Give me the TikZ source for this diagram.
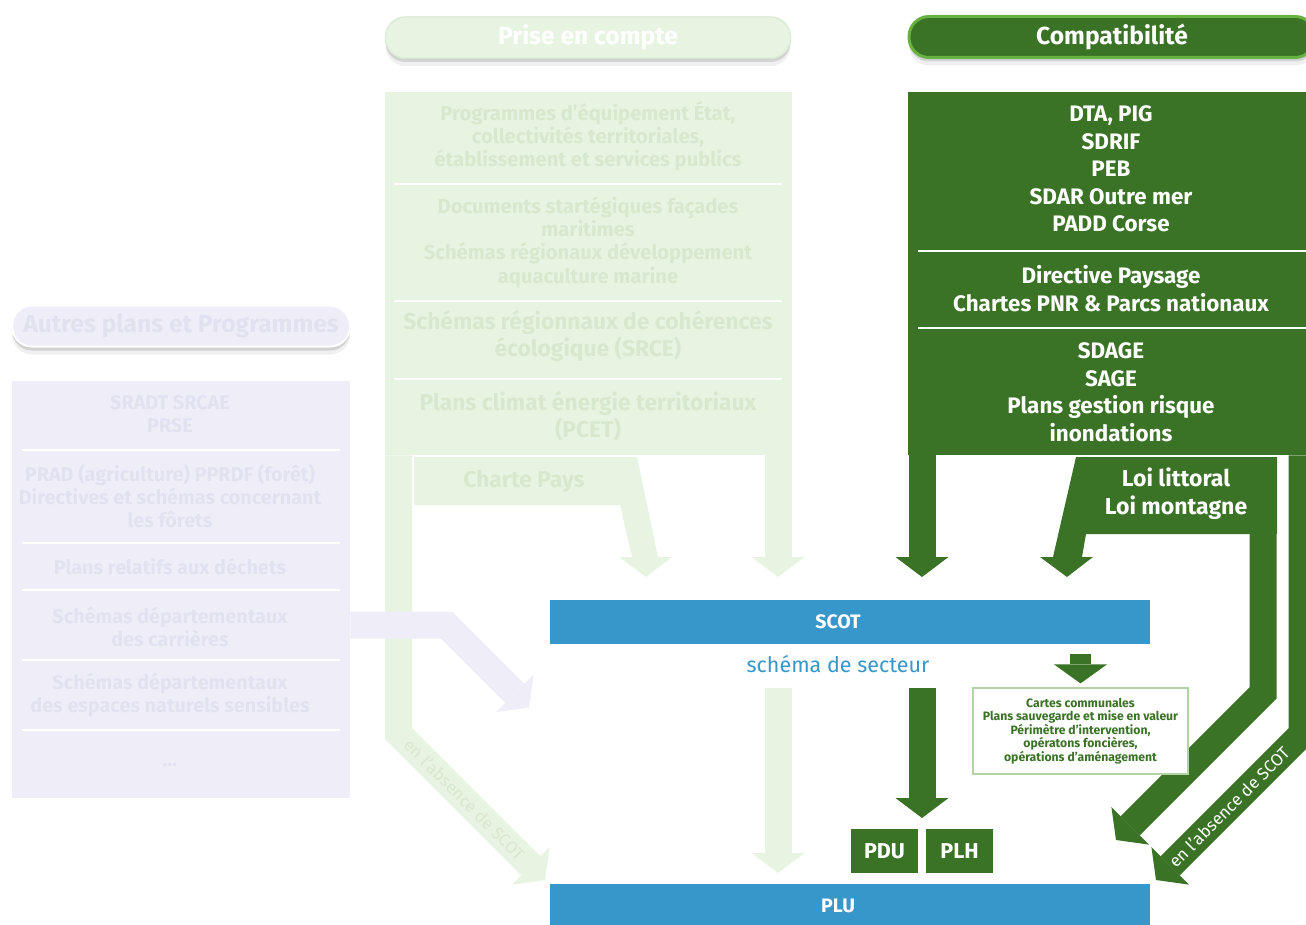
\documentclass[tikz,border=0pt]{standalone}
\usepackage{fontspec}
\setmainfont{Fira Sans}
\usetikzlibrary{arrows.meta,shadows}

\definecolor{pcfill}{HTML}{E8F4E2}
\definecolor{pctext}{HTML}{D8E8CF}
\definecolor{cpgreen}{HTML}{3A7226}
\definecolor{cprim}{HTML}{67B240}
\definecolor{apfill}{HTML}{EFEEF8}
\definecolor{aptext}{HTML}{E2E1F0}
\definecolor{docblue}{HTML}{3897CA}
\definecolor{cartesrule}{HTML}{B3D2A5}

\newcommand{\fs}[2]{\fontsize{#1}{#2}\selectfont}

\tikzset{
  pill/.style={rounded corners=20pt, minimum height=41pt, inner sep=0pt, font=\bfseries\fs{24.6}{27}},
  softshadow/.style={drop shadow={shadow xshift=0pt,shadow yshift=-4pt,opacity=.12,fill=black},
    drop shadow={shadow xshift=0pt,shadow yshift=-8pt,opacity=.06,fill=black}},
  panel/.style={anchor=north west, inner sep=0pt},
  sepline/.style={white, line width=2pt},
  pctxt/.style={text=pctext, align=center, font=\bfseries\fs{20.2}{23.3}},
  pcbig/.style={pctxt, font=\bfseries\fs{22.8}{27}},
  cptxt/.style={text=white, align=center, font=\bfseries\fs{22.4}{27.5}},
  aptxt/.style={text=aptext, align=center, font=\bfseries\fs{19.8}{23}},
  absence/.style={font=\fs{17}{19}, inner sep=0pt},
  shaft/.style={line width=27pt, line join=miter, -{Triangle[length=20pt,width=53pt,line width=0pt]}},
  bar/.style={fill=docblue, minimum width=600pt, minimum height=44pt, inner sep=0pt},
  bartxt/.style={text=white, font=\bfseries\fs{19.5}{24}},
  plbox/.style={fill=cpgreen, text=white, minimum width=67pt, minimum height=44pt, inner sep=0pt, font=\bfseries\fs{21.5}{26}}
}

\begin{document}
\begin{tikzpicture}[x=1pt,y=-1pt]
\useasboundingbox[fill=white] (0,0) rectangle (1306,925);

% headers
\node[pill, softshadow, fill=pcfill, draw=pctext!60!pcfill, line width=1.5pt, text=white, minimum width=405pt] (hprise) at (588,37.5) {Prise en compte};
\node[pill, softshadow, fill=cpgreen, draw=cprim, line width=3pt, text=white, minimum width=406pt] (hcompat) at (1112,37) {Compatibilité};
\node[pill, softshadow, fill=apfill, draw=white, line width=2pt, text=aptext, minimum width=338pt] (hautres) at (181,326) {Autres plans et Programmes};

% prise en compte
\node[panel, fill=pcfill, minimum width=407pt, minimum height=363pt] (pcbox) at (385,92) {};
\foreach \y in {184,301,379} \draw[sepline] (394,\y) -- (782,\y);
\node[pctxt] (pc1) at (588,136) {Programmes d'équipement État,\\collectivités territoriales,\\établissement et services publics};
\node[pctxt] (pc2) at (588,242) {Documents startégiques façades\\maritimes\\Schémas régionaux développement\\aquaculture marine};
\node[pcbig] (pc3) at (588,336.5) {Schémas régionnaux de cohérences\\écologique (SRCE)};
\node[pcbig] (pc4) at (588,416.5) {Plans climat énergie territoriaux\\(PCET)};
\fill[pcfill] (414,457) -- (637,457) -- (658,557) -- (672,557) -- (646,577) -- (619,557) -- (632,557) -- (620,505) -- (414,505) -- cycle;
\node[pcbig] (charte) at (524,481) {Charte Pays};

\coordinate (pcbend) at (398.5,733.5);
\coordinate (pctip) at (545,880);
\draw[shaft, pcfill] (pcbox.south west -| pcbend) -- (pcbend) -- node[pos=.45, sloped, absence, text=pctext] {en l'absence de SCOT} (pctip);
\coordinate (pcrtip) at (778,577);
\draw[shaft, pcfill] (pcbox.south -| pcrtip) -- (pcrtip);

% compatibilite
\node[panel, fill=cpgreen, minimum width=412pt, minimum height=363pt] (cpbox) at (908,92) {};
\foreach \y in {251,328} \draw[sepline] (918,\y) -- (1310,\y);
\node[cptxt] (cp1) at (1111,169) {DTA, PIG\\SDRIF\\PEB\\SDAR Outre mer\\PADD Corse};
\node[cptxt] (cp2) at (1111,288.5) {Directive Paysage\\Chartes PNR \& Parcs nationaux};
\node[cptxt] (cp3) at (1111,392) {SDAGE\\SAGE\\Plans gestion risque\\inondations};
\fill[cpgreen] (1076,457) -- (1277,457) -- (1277,534) -- (1086,534) -- (1082,557) -- (1093,557) -- (1067,577) -- (1040,557) -- (1053,557) -- cycle;
\node[cptxt, font=\bfseries\fs{23}{27.5}] (loi) at (1176,493.5) {Loi littoral\\Loi montagne};

\coordinate (cpltip) at (922,577);
\draw[shaft, cpgreen] (cpbox.south -| cpltip) -- (cpltip);
\coordinate (loitop) at (1263,530);
\coordinate (loibend) at (1263,693);
\coordinate (loitip) at (1116,840);
\draw[shaft, cpgreen] (loitop) -- (loibend) -- (loitip);
\coordinate (outbend) at (1302,734);
\coordinate (outtip) at (1156,880);
\draw[shaft, cpgreen] (cpbox.south -| outbend) -- (outbend) -- node[sloped, absence, text=white] {en l'absence de SCOT} (outtip);

% autres plans
\node[panel, fill=apfill, minimum width=338pt, minimum height=417pt] (apbox) at (12,381) {};
\foreach \y in {450,543,590,660,730} \draw[sepline] (22,\y) -- (340,\y);
\node[aptxt] (ap1) at (170,414.5) {SRADT SRCAE\\PRSE};
\node[aptxt] (ap2) at (170,496) {PRAD (agriculture) PPRDF (forêt)\\Directives et schémas concernant\\les fôrets};
\node[aptxt] (ap3) at (170,566) {Plans relatifs aux déchets};
\node[aptxt] (ap4) at (170,626.5) {Schémas départementaux\\des carrières};
\node[aptxt] (ap5) at (170,694.5) {Schémas départementaux\\des espaces naturels sensibles};
\node[aptxt] (ap6) at (170,765) {...};
\coordinate (apbend) at (446.5,625);
\coordinate (aptip) at (529,707.5);
\draw[shaft, apfill] (apbox.east |- apbend) -- (apbend) -- (aptip);

% scot / plu
\node[bar] (scot) at (850,621.5) {};
\node[bartxt] (scottxt) at (838,621.5) {SCOT};
\node[text=docblue, font=\fs{21.5}{26}] (secteur) at (838,664) {schéma de secteur};
\node[bar, minimum height=46pt] (plu) at (850,907) {};
\node[bartxt] (plutxt) at (838,906) {PLU};

\coordinate (splu1) at (778,688);
\coordinate (splu2) at (778,873);
\draw[shaft, pcfill] (splu1) -- (splu2);

\node[plbox] (pdu) at (884.5,851) {PDU};
\node[plbox] (plh) at (959.5,851) {PLH};
\coordinate (sdu1) at (922,688);
\coordinate (sdu2) at (922,818);
\draw[shaft, cpgreen] (sdu1) -- (sdu2);

\node[draw=cartesrule, line width=1.2pt, fill=white, minimum width=215pt, minimum height=86pt, inner sep=0pt, align=center, text=cpgreen, font=\bfseries\fs{12.2}{13.5}] (cartes) at (1080.5,731) {Cartes communales\\Plans sauvegarde et mise en valeur\\Périmètre d'intervention,\\opératons foncières,\\opérations d'aménagement};
\draw[line width=21pt, cpgreen, -{Triangle[length=19pt,width=53pt,line width=0pt]}] ([yshift=33pt]cartes.north) -- ([yshift=4pt]cartes.north);
\end{tikzpicture}
\end{document}
